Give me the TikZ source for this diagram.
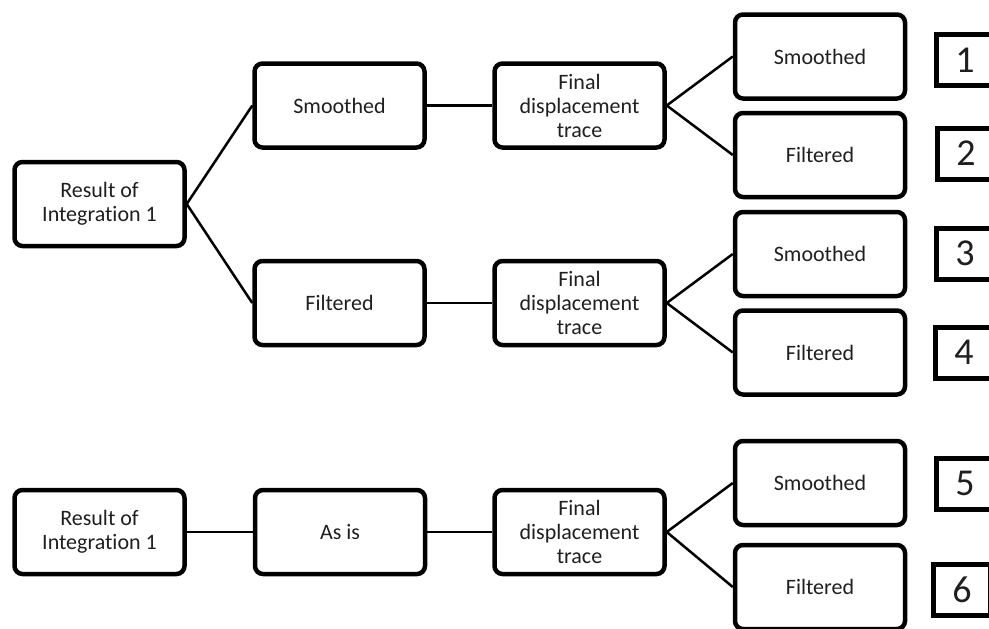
\documentclass[tikz,border=0pt]{standalone}
\usepackage{fontspec}
\setmainfont[Ligatures=NoCommon]{Carlito}

\begin{document}
\begin{tikzpicture}[x=1pt, y=-1pt,
  box/.style={draw, line width=4.5pt, rounded corners=8pt, minimum width=170pt,
    minimum height=84pt, inner sep=0pt, align=center, text=black!88,
    font=\fontsize{22}{24}\selectfont},
  numbox/.style={draw, line width=5pt, minimum width=57pt, minimum height=51pt,
    inner sep=0pt, text=black!88, font=\fontsize{38}{40}\selectfont},
  link/.style={line width=2.5pt}]
  % page 989 x 629, numbers run off the right edge
  \clip (0,0) rectangle (989,629);
  % first tree
  \node[box] (res1) at (99.5,204) {Result of\\Integration 1};
  \node[box] (smo1) at (339.5,105.5) {Smoothed};
  \node[box] (fil1) at (339.5,303) {Filtered};
  \node[box] (fin1) at (579.5,105.5) {Final\\displacement\\trace};
  \node[box] (fin2) at (579.5,303) {Final\\displacement\\trace};
  \node[box] (out1) at (820,56.5) {Smoothed};
  \node[box] (out2) at (820,155) {Filtered};
  \node[box] (out3) at (820,254) {Smoothed};
  \node[box] (out4) at (820,352.5) {Filtered};
  % second tree
  \node[box] (res2) at (99.5,532) {Result of\\Integration 1};
  \node[box] (asis) at (340,532) {As is};
  \node[box] (fin3) at (579.5,532) {Final\\displacement\\trace};
  \node[box] (out5) at (820,483) {Smoothed};
  \node[box] (out6) at (820,587) {Filtered};
  % case numbers
  \node[numbox] (n1) at (965,60) {1};
  \node[numbox] (n2) at (966,153.5) {2};
  \node[numbox] (n3) at (965,253.5) {3};
  \node[numbox] (n4) at (964,352.5) {4};
  \node[numbox] (n5) at (965,483.5) {5};
  \node[numbox] (n6) at (962,590) {6};
  % connectors
  \draw[link] (res1.east) -- (smo1.west);
  \draw[link] (res1.east) -- (fil1.west);
  \draw[link] (smo1) -- (fin1);
  \draw[link] (fil1) -- (fin2);
  \draw[link] (fin1.east) -- (out1.west);
  \draw[link] (fin1.east) -- (out2.west);
  \draw[link] (fin2.east) -- (out3.west);
  \draw[link] (fin2.east) -- (out4.west);
  \draw[link] (res2) -- (asis);
  \draw[link] (asis) -- (fin3);
  \draw[link] (fin3.east) -- (out5.west);
  \draw[link] (fin3.east) -- (out6.west);
\end{tikzpicture}
\end{document}
